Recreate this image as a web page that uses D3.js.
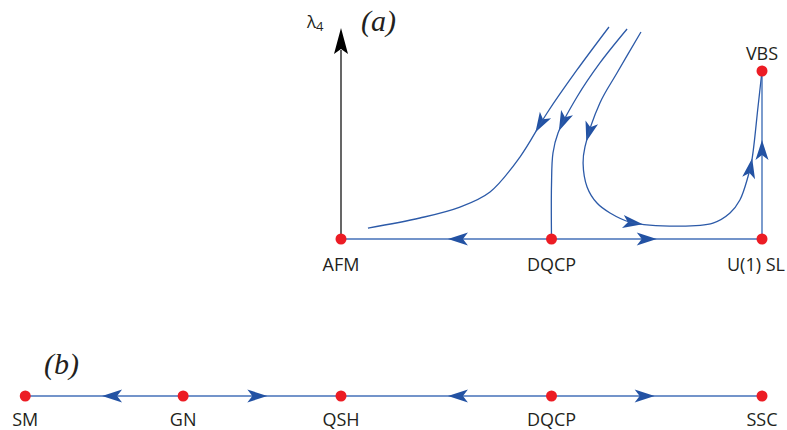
<!DOCTYPE html>
<html>
<head>
<meta charset="utf-8">
<script src="https://cdn.jsdelivr.net/npm/d3@7"></script>
<style>
  body { margin: 0; background: #fff; }
  text { font-family: "Open Sans", "Noto Sans", sans-serif; fill: #231f20; }
</style>
</head>
<body>
<svg id="flow" width="787" height="430"></svg>
<script>
// fixed points, couplings in arbitrary units (x: tuning parameter, y: lambda_4)
var pointsA = [
  { name: "AFM", x: 0, y: 0 },
  { name: "DQCP", x: 1, y: 0 },
  { name: "U(1) SL", x: 2, y: 0 },
  { name: "VBS", x: 2, y: 1 }
];
var pointsB = [
  { name: "SM", x: -1.5 },
  { name: "GN", x: -0.75 },
  { name: "QSH", x: 0 },
  { name: "DQCP", x: 1 },
  { name: "SSC", x: 2 }
];

// RG flow curves in panel (a)
var flow1 = [[1.273, 1.262], [1.121, 1.006], [0.979, 0.750], [0.850, 0.488], [0.708, 0.280],
             [0.565, 0.190], [0.375, 0.125], [0.128, 0.065]];
var flow2 = [[1.359, 1.250], [1.230, 1.048], [1.121, 0.845], [1.031, 0.631], [1.007, 0.512],
             [1.0, 0.321], [1.0, 0]];
var flow3 = [[1.425, 1.232], [1.311, 0.988], [1.230, 0.810], [1.159, 0.548], [1.150, 0.452],
             [1.169, 0.310], [1.216, 0.214], [1.278, 0.155], [1.373, 0.101], [1.610, 0.077],
             [1.767, 0.095], [1.848, 0.155], [1.895, 0.232], [1.933, 0.369], [1.952, 0.470],
             [1.981, 0.786], [2.0, 1.0]];
var curves = [flow1, flow2, flow3];

// arrow tips on the curves: curve index and approximate tip location
var curveArrows = [
  { c: 0, x: 0.922, y: 0.637 },
  { c: 1, x: 1.05, y: 0.637 },
  { c: 2, x: 1.173, y: 0.577 },
  { c: 2, x: 1.435, y: 0.095 },
  { c: 2, x: 1.952, y: 0.482 }
];
// straight flows: from -> to, tip position
var lineArrowsA = [
  { x1: 1, y1: 0, x2: 0, y2: 0, tx: 0.508, ty: 0 },
  { x1: 1, y1: 0, x2: 2, y2: 0, tx: 1.50, ty: 0 },
  { x1: 2, y1: 0, x2: 2, y2: 1, tx: 2, ty: 0.589 }
];
var lineArrowsB = [
  { dir: -1, tx: -1.135 },
  { dir: 1, tx: -0.35 },
  { dir: -1, tx: 0.508 },
  { dir: 1, tx: 1.49 }
];

var svg = d3.select("#flow");
var x = d3.scaleLinear().domain([0, 2]).range([341, 762]);
var y = d3.scaleLinear().domain([0, 1]).range([239, 71]);
var yB = 396;

var lineBlue = "#4471b8", curveBlue = "#2c5aa8", headBlue = "#2352a3", red = "#ec1c24";

function arrowHead(g, px, py, angle) {
  // notched arrowhead with tip at (px,py)
  g.append("path")
    .attr("d", "M0,0 L-20,-6.5 L-15,0 L-20,6.5 Z")
    .attr("transform", "translate(" + px + "," + py + ") rotate(" + angle + ")")
    .attr("fill", headBlue);
}

// axis
svg.append("line")
  .attr("x1", x(0)).attr("x2", x(0))
  .attr("y1", y(0)).attr("y2", 50)
  .attr("stroke", "#000").attr("stroke-width", 1.2);
svg.append("path")
  .attr("d", "M" + x(0) + ",28 L" + (x(0) + 7) + ",54 L" + x(0) + ",49 L" + (x(0) - 7) + ",54 Z")
  .attr("fill", "#000");
var lab = svg.append("text").attr("x", 307).attr("y", 28).style("font-size", "17px");
lab.append("tspan").text("λ");
lab.append("tspan").attr("dy", 3).style("font-size", "13px").text("4");

svg.append("text").attr("x", 361).attr("y", 31)
  .style("font-family", "'Liberation Serif', serif").style("font-style", "italic")
  .style("font-size", "30px").text("(a)");
svg.append("text").attr("x", 44).attr("y", 374)
  .style("font-family", "'Liberation Serif', serif").style("font-style", "italic")
  .style("font-size", "30px").text("(b)");

// panel (a) straight flows
svg.append("line")
  .attr("x1", x(0)).attr("x2", x(2)).attr("y1", y(0)).attr("y2", y(0))
  .attr("stroke", lineBlue).attr("stroke-width", 1.4);
svg.append("line")
  .attr("x1", x(2)).attr("x2", x(2)).attr("y1", y(0)).attr("y2", y(1))
  .attr("stroke", lineBlue).attr("stroke-width", 1.4);

var gA = svg.append("g");
lineArrowsA.forEach(function(d) {
  var ang = Math.atan2(y(d.y2) - y(d.y1), x(d.x2) - x(d.x1)) * 180 / Math.PI;
  arrowHead(gA, x(d.tx), y(d.ty), ang);
});

// curves
var line = d3.line()
  .x(function(d) { return x(d[0]); })
  .y(function(d) { return y(d[1]); })
  .curve(d3.curveCatmullRom.alpha(0.5));

var paths = svg.append("g").selectAll("path")
  .data(curves)
  .enter().append("path")
  .attr("d", line)
  .attr("fill", "none")
  .attr("stroke", curveBlue)
  .attr("stroke-width", 1.3);

curveArrows.forEach(function(a) {
  var node = paths.nodes()[a.c];
  var L = node.getTotalLength();
  var tx = x(a.x), ty = y(a.y), best = 0, bestD = Infinity;
  for (var s = 0; s <= L; s += 0.5) {
    var p = node.getPointAtLength(s);
    var dd = (p.x - tx) * (p.x - tx) + (p.y - ty) * (p.y - ty);
    if (dd < bestD) { bestD = dd; best = s; }
  }
  var p0 = node.getPointAtLength(Math.max(0, best - 6));
  var p1 = node.getPointAtLength(best);
  var ang = Math.atan2(p1.y - p0.y, p1.x - p0.x) * 180 / Math.PI;
  arrowHead(gA, p1.x, p1.y, ang);
});

// panel (a) fixed points
svg.append("g").selectAll("circle")
  .data(pointsA)
  .enter().append("circle")
  .attr("cx", function(d) { return x(d.x); })
  .attr("cy", function(d) { return y(d.y); })
  .attr("r", 5.5)
  .attr("fill", red);

svg.append("g").selectAll("text")
  .data(pointsA)
  .enter().append("text")
  .attr("x", function(d) { return d.name == "U(1) SL" ? x(d.x) - 6 : x(d.x); })
  .attr("y", function(d) { return d.y > 0 ? y(d.y) - 11 : y(d.y) + 32; })
  .attr("text-anchor", "middle")
  .style("font-size", "18px")
  .text(function(d) { return d.name; });

// panel (b)
svg.append("line")
  .attr("x1", x(-1.5)).attr("x2", x(2)).attr("y1", yB).attr("y2", yB)
  .attr("stroke", lineBlue).attr("stroke-width", 1.4);

var gB = svg.append("g");
lineArrowsB.forEach(function(d) {
  arrowHead(gB, x(d.tx), yB, d.dir > 0 ? 0 : 180);
});

svg.append("g").selectAll("circle")
  .data(pointsB)
  .enter().append("circle")
  .attr("cx", function(d) { return x(d.x); })
  .attr("cy", yB)
  .attr("r", 5.5)
  .attr("fill", red);

svg.append("g").selectAll("text")
  .data(pointsB)
  .enter().append("text")
  .attr("x", function(d) { return x(d.x); })
  .attr("y", yB + 30)
  .attr("text-anchor", "middle")
  .style("font-size", "18px")
  .text(function(d) { return d.name; });
</script>
</body>
</html>
